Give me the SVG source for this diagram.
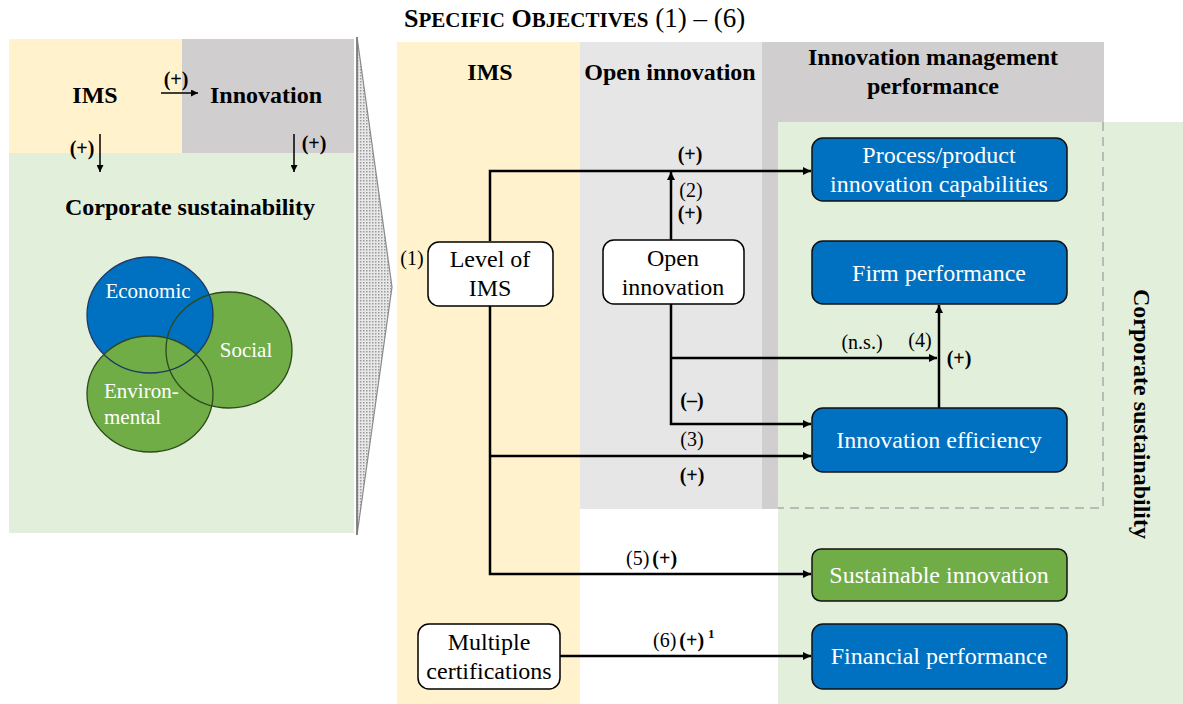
<svg xmlns="http://www.w3.org/2000/svg" width="1183" height="704" viewBox="0 0 1183 704">
  <style>
    .t { font-family: "Liberation Serif", "Times New Roman", serif; fill: #000; }
    .b { font-weight: bold; }
    .h { font-size: 24px; font-weight: bold; text-anchor: middle; }
    .lbl { font-size: 20px; text-anchor: middle; }
    .nt { font-size: 24px; text-anchor: middle; }
    .w { fill: #fff; }
    .wbox { fill: #fff; stroke: #000; stroke-width: 1.5; }
    .blue { fill: #0070c0; stroke: #111; stroke-width: 1.5; }
    .green { fill: #70ad47; stroke: #111; stroke-width: 1.5; }
    .conn { fill: none; stroke: #000; stroke-width: 2.5; }
    .thin { fill: none; stroke: #000; stroke-width: 1.5; }
    .sc { font-weight: bold; font-size: 21px; }
    .cap { font-weight: bold; font-size: 26px; }
  </style>
  <defs>
    <marker id="arr" viewBox="0 0 10 10" refX="10" refY="5" markerWidth="9" markerHeight="8" markerUnits="userSpaceOnUse" orient="auto">
      <path d="M0,0 L10,5 L0,10 z" fill="#000"/>
    </marker>
    <marker id="arrS" viewBox="0 0 10 10" refX="10" refY="5" markerWidth="8" markerHeight="7" markerUnits="userSpaceOnUse" orient="auto">
      <path d="M0,0 L10,5 L0,10 z" fill="#000"/>
    </marker>
    <pattern id="dots" width="3" height="3" patternUnits="userSpaceOnUse">
      <rect width="3" height="3" fill="#e8e8e8"/>
      <rect x="0" y="0" width="1.5" height="1.5" fill="#9a9a9a"/>
    </pattern>
  </defs>

  <rect width="1183" height="704" fill="#fff"/>

  <!-- Left overview panel -->
  <g id="overview">
    <rect x="9" y="39" width="173" height="114" fill="#fff2cc"/>
    <rect x="182" y="39" width="172" height="114" fill="#d0cece"/>
    <rect x="9" y="153" width="345" height="380" fill="#e2efda"/>
    <text class="t h" x="95" y="103">IMS</text>
    <text class="t h" x="266" y="103">Innovation</text>
    <text class="t lbl b" x="176" y="86">(+)</text>
    <path class="thin" d="M161,93 H198" marker-end="url(#arrS)"/>
    <path class="thin" d="M100,134 V172" marker-end="url(#arrS)"/>
    <path class="thin" d="M294,134 V172" marker-end="url(#arrS)"/>
    <text class="t lbl b" x="82" y="155">(+)</text>
    <text class="t lbl b" x="314" y="150">(+)</text>
    <text class="t h" x="190" y="215">Corporate sustainability</text>
  </g>

  <!-- Three pillars of sustainability -->
  <g id="pillars">
    <ellipse cx="229" cy="350" rx="63" ry="58" fill="#70ad47"/>
    <ellipse cx="150" cy="315" rx="63" ry="58" fill="#0070c0"/>
    <ellipse cx="150" cy="394" rx="63" ry="58" fill="#70ad47"/>
    <ellipse cx="229" cy="350" rx="63" ry="58" fill="none" stroke="#2e4a1c" stroke-width="1.3"/>
    <ellipse cx="150" cy="315" rx="63" ry="58" fill="none" stroke="#1f3864" stroke-width="1.3"/>
    <ellipse cx="150" cy="394" rx="63" ry="58" fill="none" stroke="#2e4a1c" stroke-width="1.3"/>
    <text class="t w" font-size="21" x="148" y="298" text-anchor="middle">Economic</text>
    <text class="t w" font-size="21" x="246" y="357" text-anchor="middle">Social</text>
    <text class="t w" font-size="21" x="104" y="398">Environ-</text>
    <text class="t w" font-size="21" x="104" y="424">mental</text>
  </g>

  <!-- Zoom wedge -->
  <g id="wedge">
    <polygon points="357,37 392,287 357,535" fill="url(#dots)" stroke="#8a8a8a" stroke-width="1.2"/>
    <line x1="357" y1="37" x2="357" y2="535" stroke="#777" stroke-width="1.5"/>
  </g>

  <!-- Detailed framework background -->
  <g id="columns">
    <rect x="397" y="42" width="183" height="662" fill="#fff2cc"/>
    <rect x="580" y="42" width="182" height="467" fill="#e7e6e6"/>
    <rect x="762" y="42" width="342" height="80" fill="#d0cece"/>
    <rect x="762" y="122" width="16" height="387" fill="#d0cece"/>
    <rect x="778" y="122" width="405" height="582" fill="#e2efda"/>
    <path d="M1103,122 V508 H778" fill="none" stroke="#aaa" stroke-width="1.5" stroke-dasharray="9,6"/>
  </g>

  <g id="titles">
    <text class="t" x="404" y="27" font-size="27"><tspan class="cap">S</tspan><tspan class="sc">PECIFIC</tspan> <tspan class="cap">O</tspan><tspan class="sc">BJECTIVES</tspan> (1) – (6)</text>
    <text class="t h" x="490" y="80">IMS</text>
    <text class="t h" x="670" y="80">Open innovation</text>
    <text class="t h" x="933" y="65">Innovation management</text>
    <text class="t h" x="933" y="94">performance</text>
    <text class="t h" transform="translate(1134,414) rotate(90)">Corporate sustainability</text>
  </g>

  <!-- Connectors -->
  <g id="connectors">
    <path class="conn" d="M490,241 V171 H811" marker-end="url(#arr)"/>
    <path class="conn" d="M671,240 V172" marker-end="url(#arr)"/>
    <path class="conn" d="M490,306 V574 H811" marker-end="url(#arr)"/>
    <path class="conn" d="M490,456 H811" marker-end="url(#arr)"/>
    <path class="conn" d="M671,304 V424 H811" marker-end="url(#arr)"/>
    <path class="conn" d="M671,358 H937" marker-end="url(#arr)"/>
    <path class="conn" d="M939,408 V305" marker-end="url(#arr)"/>
    <path class="conn" d="M560,656 H811" marker-end="url(#arr)"/>

    <text class="t lbl b" x="690" y="161">(+)</text>
    <text class="t lbl" x="691" y="197">(2)</text>
    <text class="t lbl b" x="690" y="220">(+)</text>
    <text class="t lbl" x="412" y="265">(1)</text>
    <text class="t lbl" x="862" y="349">(n.s.)</text>
    <text class="t lbl" x="920" y="347">(4)</text>
    <text class="t lbl b" x="959" y="365">(+)</text>
    <text class="t lbl b" x="692" y="407">(–)</text>
    <text class="t lbl" x="692" y="446">(3)</text>
    <text class="t lbl b" x="692" y="482">(+)</text>
    <text class="t" font-size="20" x="626" y="565">(5)<tspan font-weight="bold" dx="3">(+)</tspan></text>
    <text class="t" font-size="20" x="653" y="647">(6)<tspan font-weight="bold" dx="3">(+)</tspan><tspan font-weight="bold" font-size="13" dx="4" dy="-9">1</tspan></text>
  </g>

  <!-- Nodes -->
  <g id="level-of-ims">
    <rect class="wbox" x="428" y="242" width="125" height="64" rx="11"/>
    <text class="t nt" x="490" y="267">Level of</text>
    <text class="t nt" x="490" y="296">IMS</text>
  </g>
  <g id="open-innovation">
    <rect class="wbox" x="603" y="240" width="141" height="64" rx="11"/>
    <text class="t nt" x="673" y="266">Open</text>
    <text class="t nt" x="673" y="295">innovation</text>
  </g>
  <g id="multiple-certifications">
    <rect class="wbox" x="418" y="624" width="142" height="65" rx="11"/>
    <text class="t nt" x="489" y="650">Multiple</text>
    <text class="t nt" x="489" y="679">certifications</text>
  </g>
  <g id="process-product">
    <rect class="blue" x="812" y="138" width="255" height="63" rx="11"/>
    <text class="t nt w" x="939" y="163">Process/product</text>
    <text class="t nt w" x="939" y="192">innovation capabilities</text>
  </g>
  <g id="firm-performance">
    <rect class="blue" x="812" y="241" width="255" height="63" rx="11"/>
    <text class="t nt w" x="939" y="281">Firm performance</text>
  </g>
  <g id="innovation-efficiency">
    <rect class="blue" x="812" y="408" width="255" height="64" rx="11"/>
    <text class="t nt w" x="939" y="448">Innovation efficiency</text>
  </g>
  <g id="sustainable-innovation">
    <rect class="green" x="812" y="549" width="255" height="52" rx="9"/>
    <text class="t nt w" x="939" y="583">Sustainable innovation</text>
  </g>
  <g id="financial-performance">
    <rect class="blue" x="812" y="624" width="255" height="65" rx="11"/>
    <text class="t nt w" x="939" y="664">Financial performance</text>
  </g>
</svg>
